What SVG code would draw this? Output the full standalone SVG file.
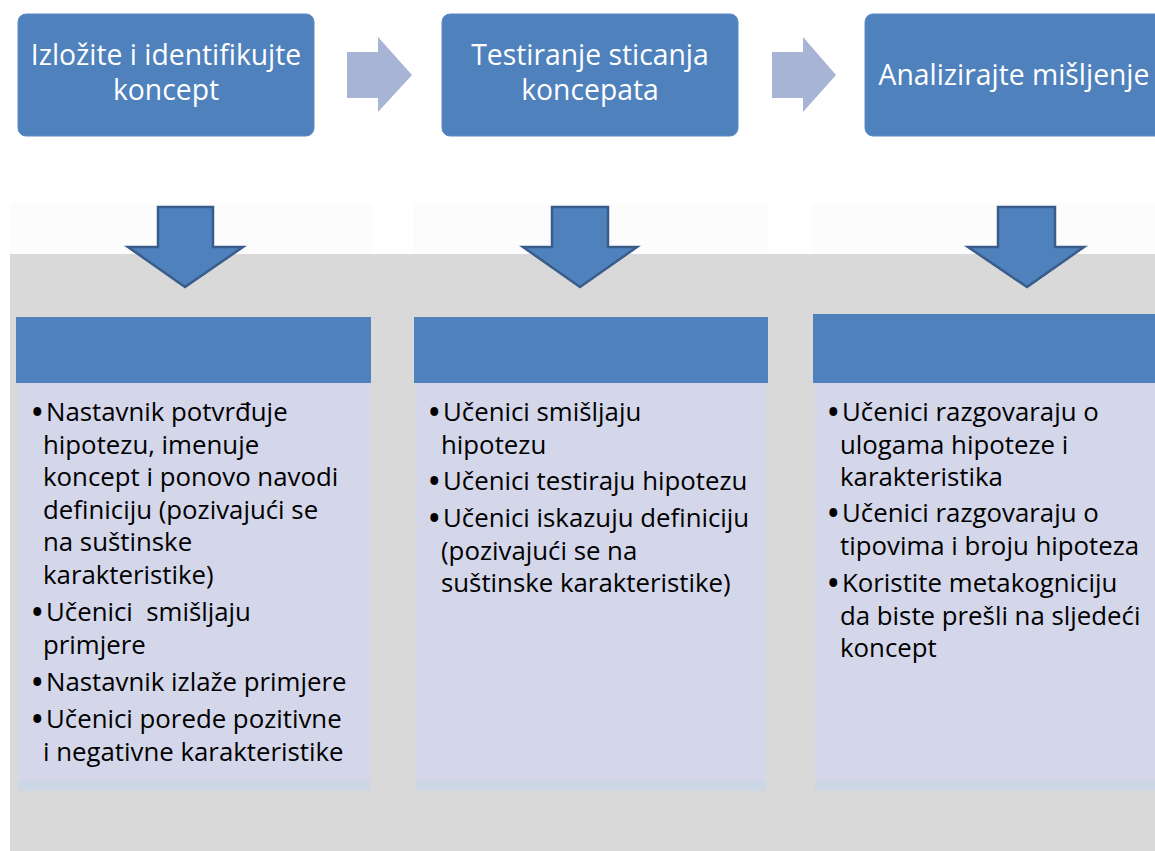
<svg xmlns="http://www.w3.org/2000/svg" width="1155" height="851" viewBox="0 0 1155 851">
<defs>
<style>
.box{fill:#4f81bd;stroke:#5b8ac4;stroke-width:1}
.hdr{fill:#4f81bd}
.body{fill:#d4d6ea}
.strip{fill:#cdd7e4}
.ttl{font-family:"Open Sans","Liberation Sans",sans-serif;font-size:28.3px;fill:#ffffff;text-anchor:middle}
.txt{font-family:"Open Sans","Liberation Sans",sans-serif;font-size:25.8px;fill:#000000}
.b{font-size:28px;font-weight:bold}
.rarr{fill:#a7b4d6}
.darr{fill:#4f81bd;stroke:#385d8a;stroke-width:2.5;stroke-linejoin:miter}
</style>
</defs>
<rect x="0" y="0" width="1155" height="851" fill="#ffffff"/>
<g id="background">
<rect x="10" y="203" width="362" height="52" fill="#fcfcfc"/>
<rect x="413" y="203" width="355" height="52" fill="#fcfcfc"/>
<rect x="812" y="203" width="343" height="52" fill="#fcfcfc"/>
<rect x="10" y="254" width="1145" height="597" fill="#d9d9d9"/>
</g>
<g id="step1">
<rect class="box" x="18" y="14" width="296" height="122" rx="8"/>
<text class="ttl" x="166" y="65">Izložite i identifikujte</text>
<text class="ttl" x="166" y="100">koncept</text>
</g>
<g id="step2">
<rect class="box" x="442" y="14" width="296" height="122" rx="8"/>
<text class="ttl" x="590" y="65">Testiranje sticanja</text>
<text class="ttl" x="590" y="100">koncepata</text>
</g>
<g id="step3">
<rect class="box" x="865" y="14" width="310" height="122" rx="8"/>
<text class="ttl" x="1014" y="85">Analizirajte mišljenje</text>
</g>
<g id="panel1">
<rect class="strip" x="18" y="777" width="352" height="14"/>
<rect class="body" x="18" y="383" width="352" height="398"/>
<rect class="hdr" x="16" y="317" width="355" height="66"/>
<text class="txt"><tspan class="b" x="32" y="422">•</tspan><tspan x="46" y="421">Nastavnik potvrđuje</tspan></text>
<text class="txt" x="43" y="453.5">hipotezu, imenuje</text>
<text class="txt" x="43" y="486">koncept i ponovo navodi</text>
<text class="txt" x="43" y="518.5">definiciju (pozivajući se</text>
<text class="txt" x="43" y="551">na suštinske</text>
<text class="txt" x="43" y="583.5">karakteristike)</text>
<text class="txt"><tspan class="b" x="32" y="622">•</tspan><tspan x="46" y="621">Učenici&#160; smišljaju</tspan></text>
<text class="txt" x="43" y="653.5">primjere</text>
<text class="txt"><tspan class="b" x="32" y="692">•</tspan><tspan x="46" y="691">Nastavnik izlaže primjere</tspan></text>
<text class="txt"><tspan class="b" x="32" y="729">•</tspan><tspan x="46" y="728">Učenici porede pozitivne</tspan></text>
<text class="txt" x="43" y="760.5">i negativne karakteristike</text>
</g>
<g id="panel2">
<rect class="strip" x="416" y="777" width="350" height="14"/>
<rect class="body" x="416" y="383" width="350" height="398"/>
<rect class="hdr" x="414" y="317" width="354" height="66"/>
<text class="txt"><tspan class="b" x="429" y="422">•</tspan><tspan x="443" y="421">Učenici smišljaju</tspan></text>
<text class="txt" x="441" y="453.5">hipotezu</text>
<text class="txt"><tspan class="b" x="429" y="491">•</tspan><tspan x="443" y="490">Učenici testiraju hipotezu</tspan></text>
<text class="txt"><tspan class="b" x="429" y="528">•</tspan><tspan x="443" y="527">Učenici iskazuju definiciju</tspan></text>
<text class="txt" x="441" y="559.5">(pozivajući se na</text>
<text class="txt" x="441" y="592">suštinske karakteristike)</text>
</g>
<g id="panel3">
<rect class="strip" x="815" y="777" width="340" height="14"/>
<rect class="body" x="815" y="383" width="340" height="398"/>
<rect class="hdr" x="813" y="314" width="342" height="69"/>
<text class="txt"><tspan class="b" x="828" y="422">•</tspan><tspan x="842" y="421">Učenici razgovaraju o</tspan></text>
<text class="txt" x="840" y="453.5">ulogama hipoteze i</text>
<text class="txt" x="840" y="486">karakteristika</text>
<text class="txt"><tspan class="b" x="828" y="523">•</tspan><tspan x="842" y="522">Učenici razgovaraju o</tspan></text>
<text class="txt" x="840" y="554.5">tipovima i broju hipoteza</text>
<text class="txt"><tspan class="b" x="828" y="593">•</tspan><tspan x="842" y="592">Koristite metakogniciju</tspan></text>
<text class="txt" x="840" y="624.5">da biste prešli na sljedeći</text>
<text class="txt" x="840" y="657">koncept</text>
</g>
<g id="connectors">
<polygon class="rarr" points="347,52 378,52 378,37 412,75 378,112 378,98 347,98"/>
<polygon class="rarr" points="772,52 803,52 803,37 836,75 803,112 803,98 772,98"/>
<polygon class="darr" points="158,207 213,207 213,247 243,247 185,287 128,247 158,247"/>
<polygon class="darr" points="552,207 608,207 608,247 637,247 580,287 523,247 552,247"/>
<polygon class="darr" points="998,207 1055,207 1055,247 1084,247 1027,287 968,247 998,247"/>
</g>
</svg>
